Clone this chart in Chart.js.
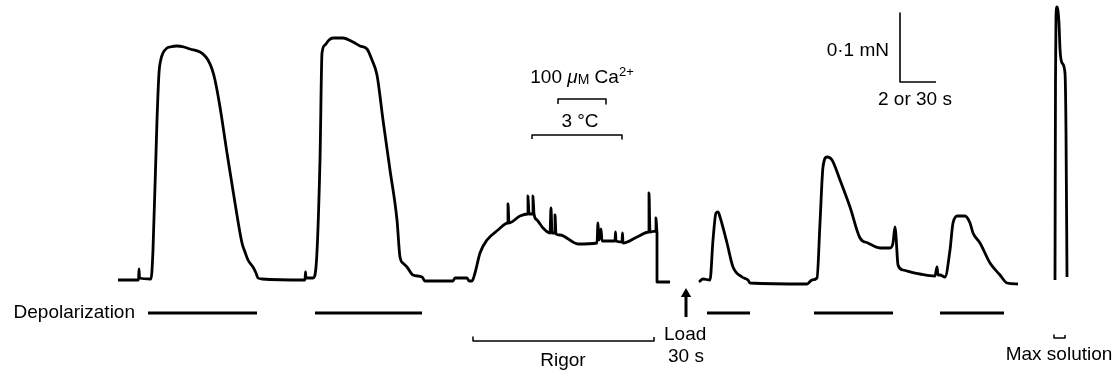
<!DOCTYPE html>
<html>
<head>
<meta charset="utf-8">
<script src="https://cdn.jsdelivr.net/npm/chart.js@4.4.1/dist/chart.umd.min.js"></script>
<style>
  html, body { margin: 0; padding: 0; background: #fff; }
  #wrap { width: 1117px; height: 375px; position: relative; }
</style>
</head>
<body>
<div id="wrap"><canvas id="grafico"></canvas></div>
<script>
// force trace, x = recording time (arbitrary units), y = tension above baseline (69 units = 0.1 mN)
const traceA = [
  [118, 1], [138.5, 1], [139, 12], [139.5, 3], [151, 2], [153, 31], [157, 161], [159, 208], [161, 222],
  [163, 228], [167, 233], [170, 234], [177, 235], [184, 234], [190, 232], [200, 229], [205, 225],
  [208, 221], [212, 212], [215, 201], [220, 174], [227, 128], [235, 78], [242, 38], [245, 29],
  [248, 21], [253, 14], [256, 8], [258, 3], [262, 2], [305, 1], [305.5, 9], [306, 3], [313, 3],
  [316, 14], [320, 121], [322, 228], [325, 236], [329, 241], [333, 243], [343, 243], [353, 239],
  [360, 235], [367, 232], [372, 221], [377, 206], [383, 161], [390, 111], [397, 61], [400, 24],
  [404, 17], [407, 14], [413, 6], [422, 4], [425, 0], [453, 0], [455, 3], [467, 3], [469, 0],
  [472, 0], [475, 8], [480, 28], [487, 41], [498, 51], [508, 58], [508, 77], [509, 58], [520, 65],
  [528, 67], [528, 85], [529, 67], [533, 67], [533, 85], [534, 67], [537, 61], [543, 53], [550, 48],
  [551, 73], [552, 48], [555, 48], [555, 66], [556, 47], [560, 46], [578, 37], [597, 38], [598, 58],
  [599, 41], [601, 52], [602, 40], [615, 40], [615.5, 49], [616, 40], [622, 39], [622.5, 48],
  [623, 38], [637, 44], [649, 49], [649, 88], [650, 49], [656, 50], [656, 63], [657, 49], [657, -1],
  [670, -1]
];
const traceB = [
  [699, -1], [703, 2], [710, 1], [713, 41], [716, 68], [718, 69], [720, 64], [727, 38], [733, 14],
  [742, 4], [748, 1], [750, -2], [807, -3], [812, 1], [817, 3], [820, 58], [823, 114], [827, 124],
  [832, 121], [840, 101], [850, 74], [860, 43], [868, 38], [880, 33], [890, 33], [893, 38], [895, 54],
  [896, 45], [898, 16], [903, 11], [920, 7], [935, 5], [937, 14], [938, 6], [940, 6], [945, 4],
  [950, 31], [953, 58], [958, 65], [965, 65], [970, 58], [973, 48], [980, 38], [990, 18], [1000, 6],
  [1007, -2], [1018, -3]
];
const traceC = [
  [1055, 1], [1055.5, 200], [1056, 265], [1057, 274], [1058, 270], [1059, 258], [1060, 232],
  [1062, 218], [1065, 208], [1066, 150], [1067, 4]
];

// stimulus bars
const depolStart = [148, 315, 707, 814, 940];
const depolEnd = [257, 422, 750, 893, 1004];
const depolLevel = -32;

// brackets: [from, to, level, tick end]
const rigorBracket = [473, 654, -60, -56];
const caBracket = [558, 606, 182, 177];
const coldBracket = [532, 622, 146, 142];
const maxBracket = [1054, 1065, -57, -54];

// scale bar: 69 units = 0.1 mN
const scaleBarX = [900, 936];
const scaleBarY = [199, 268];

// load arrow
const loadArrow = [686, -36, -13];

const labels = [
  { text: 'Depolarization', x: 135, y: -32, align: 'right' },
  { text: 'Rigor', x: 563, y: -80, align: 'center' },
  { text: 'Load', x: 664, y: -54, align: 'left' },
  { text: '30 s', x: 668, y: -76, align: 'left' },
  { text: 'Max solution', x: 1059, y: -74, align: 'center' },
  { text: '3 °C', x: 580, y: 159, align: 'center' },
  { text: '0·1 mN', x: 889, y: 230, align: 'right' },
  { text: '2 or 30 s', x: 878, y: 181, align: 'left' }
];

function pts(arr) {
    return arr.map(p => ({ x: p[0], y: p[1] }));
}

function bracket(b) {
    return [{ x: b[0], y: b[3] }, { x: b[0], y: b[2] }, { x: b[1], y: b[2] }, { x: b[1], y: b[3] }];
}

let depolData = [];
depolStart.forEach((s, i) => {
    depolData.push({ x: s, y: depolLevel }, { x: depolEnd[i], y: depolLevel }, { x: depolEnd[i], y: null });
});

const fonte = '"Liberation Sans", Arial, Helvetica, sans-serif';

const textPlugin = {
    id: 'textos',
    afterDraw(chart) {
        const ctx = chart.ctx;
        const sx = chart.scales.x, sy = chart.scales.y;
        ctx.save();
        ctx.fillStyle = '#000';
        ctx.textBaseline = 'middle';
        ctx.font = '19px ' + fonte;
        labels.forEach(l => {
            ctx.textAlign = l.align;
            ctx.fillText(l.text, sx.getPixelForValue(l.x), sy.getPixelForValue(l.y));
        });

        // 100 µM Ca2+ with mixed styles
        const partes = [
            { t: '100 ', f: '19px ' + fonte, dy: 0 },
            { t: 'μ', f: 'italic 19px ' + fonte, dy: 0 },
            { t: 'M', f: '14px ' + fonte, dy: 2 },
            { t: ' Ca', f: '19px ' + fonte, dy: 0 },
            { t: '2+', f: '13px ' + fonte, dy: -6 }
        ];
        let total = 0;
        partes.forEach(p => { ctx.font = p.f; p.w = ctx.measureText(p.t).width; total += p.w; });
        let px = sx.getPixelForValue(582) - total / 2;
        const py = sy.getPixelForValue(203);
        ctx.textAlign = 'left';
        partes.forEach(p => {
            ctx.font = p.f;
            ctx.fillText(p.t, px, py + p.dy);
            px += p.w;
        });
        ctx.restore();
    }
};

const linha = (data, w) => ({
    data: data,
    borderColor: '#000',
    borderWidth: w,
    pointRadius: 0,
    tension: 0,
    spanGaps: false,
    borderJoinStyle: 'round',
    borderCapStyle: 'butt'
});

const curva = (data) => Object.assign(linha(data, 2.8), { cubicInterpolationMode: 'monotone' });

new Chart(document.getElementById('grafico').getContext('2d'), {
    type: 'line',
    data: {
        datasets: [
            curva(pts(traceA)),
            curva(pts(traceB)),
            curva(pts(traceC)),
            linha(depolData, 3),
            linha(bracket(rigorBracket), 1.5),
            linha(bracket(caBracket), 1.5),
            linha(bracket(coldBracket), 1.5),
            linha(bracket(maxBracket), 1.5),
            linha([{ x: scaleBarX[0], y: scaleBarY[1] }, { x: scaleBarX[0], y: scaleBarY[0] }, { x: scaleBarX[1], y: scaleBarY[0] }], 1.6),
            Object.assign(linha([{ x: loadArrow[0], y: loadArrow[1] }, { x: loadArrow[0], y: loadArrow[2] }], 3), {
                pointRadius: [0, 6],
                pointStyle: 'triangle',
                pointBackgroundColor: '#000',
                pointBorderColor: '#000',
                pointBorderWidth: 0
            })
        ]
    },
    options: {
        responsive: true,
        maintainAspectRatio: false,
        animation: false,
        layout: { padding: 0, autoPadding: false },
        plugins: { legend: { display: false }, tooltip: { enabled: false } },
        scales: {
            x: { type: 'linear', min: 0, max: 1117, display: false },
            y: { type: 'linear', min: -94, max: 281, display: false }
        }
    },
    plugins: [textPlugin]
});
</script>
</body>
</html>
